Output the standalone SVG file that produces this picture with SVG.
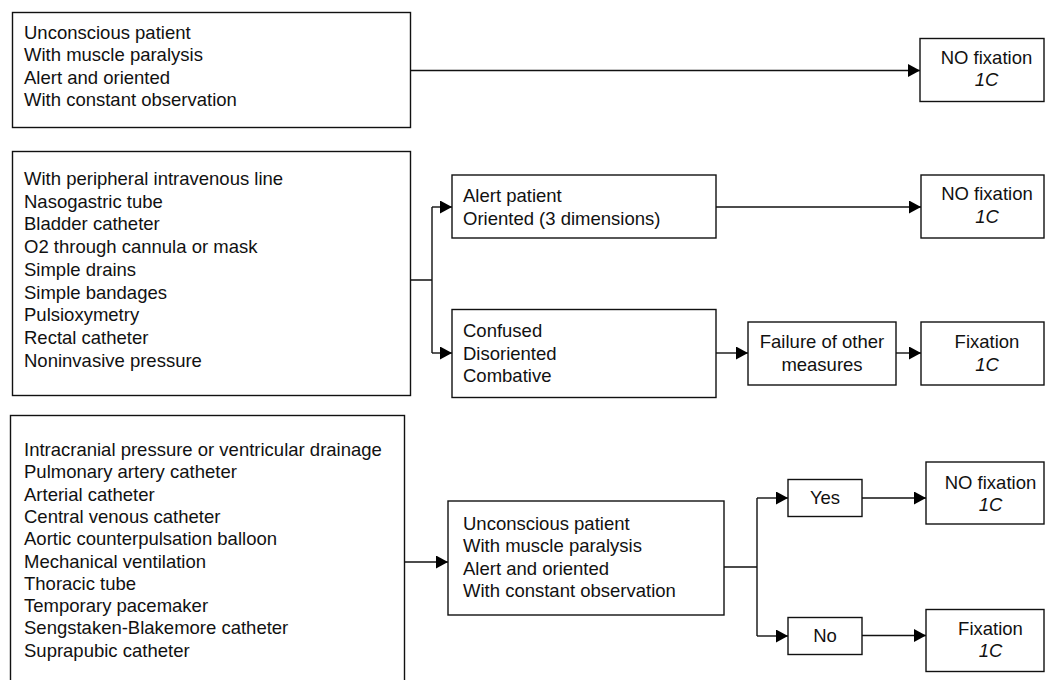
<svg xmlns="http://www.w3.org/2000/svg" width="1045" height="680" viewBox="0 0 1045 680">
<defs>
<style>
.box{fill:#fff;stroke:#111;stroke-width:1.4}
.t{font-family:"Liberation Sans",Arial,sans-serif;font-size:18.5px;fill:#111}
.c{text-anchor:middle}
.i{font-style:italic}
.ln{fill:none;stroke:#111;stroke-width:1.4}
</style>
<marker id="ah" markerUnits="userSpaceOnUse" markerWidth="13" markerHeight="14" refX="12" refY="6.5" orient="auto">
<path d="M0,0 L12,6.5 L0,13 z" fill="#000"/>
</marker>
</defs>
<rect width="1045" height="680" fill="#fff"/>

<g id="connectors">
<path class="ln" d="M411,70.5 H920" marker-end="url(#ah)"/>
<path class="ln" d="M411,280 H432 M432,207 V353"/>
<path class="ln" d="M432,207 H452" marker-end="url(#ah)"/>
<path class="ln" d="M432,353 H452" marker-end="url(#ah)"/>
<path class="ln" d="M716,207 H921" marker-end="url(#ah)"/>
<path class="ln" d="M716,353 H748" marker-end="url(#ah)"/>
<path class="ln" d="M896,353 H921" marker-end="url(#ah)"/>
<path class="ln" d="M404,562 H448" marker-end="url(#ah)"/>
<path class="ln" d="M724,567 H757 M757,498 V636"/>
<path class="ln" d="M757,498 H788" marker-end="url(#ah)"/>
<path class="ln" d="M757,636 H788" marker-end="url(#ah)"/>
<path class="ln" d="M862,498 H926" marker-end="url(#ah)"/>
<path class="ln" d="M862,635.5 H926" marker-end="url(#ah)"/>
</g>

<g id="box1">
<rect class="box" x="12.5" y="12.5" width="398" height="115"/>
<text class="t" x="24" y="38.5">Unconscious patient</text>
<text class="t" x="24" y="61">With muscle paralysis</text>
<text class="t" x="24" y="83.5">Alert and oriented</text>
<text class="t" x="24" y="106">With constant observation</text>
</g>

<g id="nofix1">
<rect class="box" x="920" y="38.5" width="124" height="63"/>
<text class="t c" x="986.5" y="63.5">NO fixation</text>
<text class="t c i" x="986.5" y="85.5">1C</text>
</g>

<g id="box2">
<rect class="box" x="12.5" y="151.5" width="398" height="244"/>
<text class="t" x="24" y="185">With peripheral intravenous line</text>
<text class="t" x="24" y="207.7">Nasogastric tube</text>
<text class="t" x="24" y="230.4">Bladder catheter</text>
<text class="t" x="24" y="253.1">O2 through cannula or mask</text>
<text class="t" x="24" y="275.8">Simple drains</text>
<text class="t" x="24" y="298.5">Simple bandages</text>
<text class="t" x="24" y="321.2">Pulsioxymetry</text>
<text class="t" x="24" y="343.9">Rectal catheter</text>
<text class="t" x="24" y="366.6">Noninvasive pressure</text>
</g>

<g id="alert">
<rect class="box" x="452" y="175" width="264" height="63"/>
<text class="t" x="463" y="202">Alert patient</text>
<text class="t" x="463" y="224.5">Oriented (3 dimensions)</text>
</g>

<g id="nofix2">
<rect class="box" x="921" y="175" width="123" height="63"/>
<text class="t c" x="987" y="200">NO fixation</text>
<text class="t c i" x="987" y="223">1C</text>
</g>

<g id="confused">
<rect class="box" x="452" y="309.5" width="264" height="88"/>
<text class="t" x="463" y="337">Confused</text>
<text class="t" x="463" y="359.5">Disoriented</text>
<text class="t" x="463" y="382">Combative</text>
</g>

<g id="failure">
<rect class="box" x="748" y="322" width="148" height="63"/>
<text class="t c" x="822" y="348">Failure of other</text>
<text class="t c" x="822" y="371">measures</text>
</g>

<g id="fix2">
<rect class="box" x="921" y="322" width="123" height="63"/>
<text class="t c" x="987" y="348">Fixation</text>
<text class="t c i" x="987" y="370.5">1C</text>
</g>

<g id="box3">
<rect class="box" x="10.5" y="415.5" width="394" height="270"/>
<text class="t" x="24" y="456">Intracranial pressure or ventricular drainage</text>
<text class="t" x="24" y="478.3">Pulmonary artery catheter</text>
<text class="t" x="24" y="500.6">Arterial catheter</text>
<text class="t" x="24" y="522.9">Central venous catheter</text>
<text class="t" x="24" y="545.2">Aortic counterpulsation balloon</text>
<text class="t" x="24" y="567.5">Mechanical ventilation</text>
<text class="t" x="24" y="589.8">Thoracic tube</text>
<text class="t" x="24" y="612.1">Temporary pacemaker</text>
<text class="t" x="24" y="634.4">Sengstaken-Blakemore catheter</text>
<text class="t" x="24" y="656.7">Suprapubic catheter</text>
</g>

<g id="uncon2">
<rect class="box" x="448" y="501" width="276" height="114"/>
<text class="t" x="463" y="530">Unconscious patient</text>
<text class="t" x="463" y="552.3">With muscle paralysis</text>
<text class="t" x="463" y="574.6">Alert and oriented</text>
<text class="t" x="463" y="597">With constant observation</text>
</g>

<g id="yes">
<rect class="box" x="788" y="479.5" width="74" height="37"/>
<text class="t c" x="825" y="503.5">Yes</text>
</g>

<g id="no">
<rect class="box" x="788" y="617.5" width="74" height="37"/>
<text class="t c" x="825" y="642">No</text>
</g>

<g id="nofix3">
<rect class="box" x="926" y="462" width="118" height="62"/>
<text class="t c" x="990.5" y="488.5">NO fixation</text>
<text class="t c i" x="990.5" y="510.5">1C</text>
</g>

<g id="fix3">
<rect class="box" x="926" y="609.5" width="118" height="62"/>
<text class="t c" x="990.5" y="635">Fixation</text>
<text class="t c i" x="990.5" y="657">1C</text>
</g>
</svg>
